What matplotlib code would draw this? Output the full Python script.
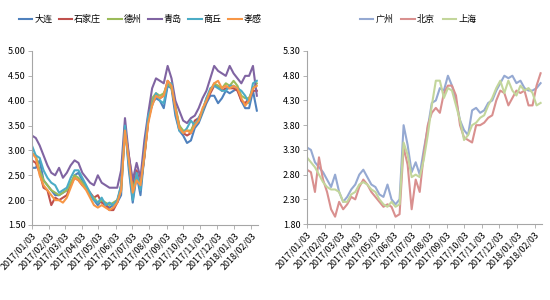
import numpy as np
import pandas as pd
import matplotlib
matplotlib.use('Agg')
import matplotlib.pyplot as plt
import matplotlib.dates as mdates

plt.rcParams['font.family'] = ['Noto Sans CJK SC', 'DejaVu Sans']

# weekly observations, 2017/01/03 .. 2018/02/13
dates = pd.date_range('2017-01-03', periods=59, freq='7D')

dalian = [2.65, 2.65, 2.8, 2.4, 2.3, 2.2, 2.1, 2.1, 2.15, 2.2, 2.3, 2.5, 2.55, 2.4, 2.25,
          2.1, 2.0, 1.9, 2.0, 1.9, 1.85, 1.9, 1.95, 2.1, 3.5, 2.6, 1.95, 2.5, 2.1, 2.9,
          3.6, 3.95, 4.05, 4.0, 3.85, 4.3, 4.25, 3.7, 3.4, 3.3, 3.15, 3.2, 3.45, 3.55, 3.75,
          3.95, 4.1, 4.1, 3.95, 4.05, 4.2, 4.15, 4.2, 4.25, 4.0, 3.85, 3.85, 4.2, 3.8]
shijiazhuang = [2.8, 2.75, 2.55, 2.25, 2.2, 1.9, 2.05, 2.0, 2.05, 2.1, 2.3, 2.45, 2.4, 2.3, 2.25,
                2.15, 2.05, 2.1, 1.95, 1.9, 1.8, 1.8, 1.95, 2.3, 3.45, 2.9, 2.3, 2.6, 2.3, 2.85,
                3.6, 3.95, 4.1, 4.05, 4.1, 4.4, 4.3, 3.85, 3.5, 3.35, 3.3, 3.35, 3.6, 3.65, 3.8,
                4.0, 4.15, 4.3, 4.3, 4.2, 4.25, 4.25, 4.25, 4.2, 4.0, 3.95, 4.05, 4.2, 4.2]
dezhou = [2.95, 2.9, 2.6, 2.4, 2.3, 2.2, 2.15, 2.1, 2.15, 2.2, 2.35, 2.5, 2.45, 2.35, 2.25,
          2.1, 2.05, 1.95, 2.0, 1.95, 1.9, 1.95, 2.0, 2.2, 3.4, 2.8, 2.2, 2.5, 2.3, 2.9,
          3.65, 4.05, 4.15, 4.1, 4.15, 4.35, 4.25, 3.9, 3.5, 3.4, 3.4, 3.4, 3.55, 3.6, 3.8,
          4.05, 4.2, 4.35, 4.3, 4.25, 4.35, 4.3, 4.4, 4.3, 4.1, 4.05, 4.05, 4.25, 4.35]
qingdao = [3.3, 3.25, 3.1, 2.9, 2.7, 2.55, 2.5, 2.65, 2.45, 2.55, 2.7, 2.8, 2.75, 2.55, 2.45,
           2.35, 2.3, 2.5, 2.35, 2.3, 2.25, 2.25, 2.25, 2.6, 3.65, 2.9, 2.4, 2.75, 2.45, 3.2,
           3.75, 4.25, 4.45, 4.4, 4.35, 4.7, 4.45, 4.0, 3.8, 3.6, 3.55, 3.65, 3.7, 3.85, 4.05,
           4.2, 4.45, 4.7, 4.6, 4.55, 4.5, 4.7, 4.55, 4.45, 4.35, 4.5, 4.5, 4.7, 4.1]
shangqiu = [3.1, 2.9, 2.85, 2.6, 2.45, 2.35, 2.3, 2.15, 2.2, 2.25, 2.45, 2.6, 2.6, 2.45, 2.3,
            2.15, 2.0, 1.95, 2.05, 1.9, 1.95, 1.9, 2.0, 2.3, 3.5, 2.7, 2.0, 2.55, 2.2, 2.95,
            3.7, 3.9, 4.15, 4.0, 3.95, 4.35, 4.35, 3.8, 3.4, 3.35, 3.45, 3.6, 3.5, 3.65, 3.8,
            4.05, 4.25, 4.3, 4.25, 4.2, 4.2, 4.3, 4.3, 4.25, 4.2, 4.1, 3.95, 4.35, 4.4]
xiaogan = [2.95, 2.85, 2.5, 2.3, 2.2, 2.1, 2.0, 2.0, 1.95, 2.05, 2.25, 2.45, 2.4, 2.3, 2.2,
           2.05, 1.9, 1.85, 1.9, 1.85, 1.8, 1.85, 1.95, 2.2, 3.4, 2.8, 2.15, 2.4, 2.3, 2.9,
           3.55, 3.9, 4.1, 4.05, 4.1, 4.4, 4.3, 3.85, 3.45, 3.35, 3.4, 3.35, 3.5, 3.6, 3.85,
           4.0, 4.2, 4.35, 4.4, 4.25, 4.3, 4.25, 4.3, 4.25, 4.05, 3.9, 4.0, 4.25, 4.3]

guangzhou = [3.35, 3.3, 3.05, 2.95, 2.85, 2.7, 2.55, 2.8, 2.45, 2.25, 2.35, 2.5, 2.6, 2.8, 2.9,
             2.75, 2.6, 2.55, 2.4, 2.35, 2.6, 2.3, 2.2, 2.3, 3.8, 3.4, 2.85, 3.05, 2.8, 3.3,
             3.75, 4.25, 4.3, 4.55, 4.5, 4.8, 4.6, 4.3, 3.9, 3.7, 3.6, 4.1, 4.15, 4.05, 4.1,
             4.25, 4.3, 4.5, 4.65, 4.8, 4.75, 4.8, 4.65, 4.7, 4.55, 4.5, 4.5, 4.55, 4.65]
beijing = [2.9, 2.85, 2.45, 3.15, 2.7, 2.45, 2.1, 1.95, 2.25, 2.1, 2.2, 2.35, 2.3, 2.55, 2.7,
           2.6, 2.45, 2.35, 2.25, 2.15, 2.2, 2.15, 1.95, 2.0, 3.35, 3.0, 2.1, 2.7, 2.45, 3.2,
           3.8, 4.05, 4.15, 4.05, 4.45, 4.6, 4.6, 4.4, 3.8, 3.55, 3.5, 3.45, 3.8, 3.8, 3.85,
           3.95, 4.0, 4.3, 4.5, 4.45, 4.2, 4.35, 4.5, 4.45, 4.5, 4.2, 4.2, 4.6, 4.85]
shanghai = [3.15, 3.05, 2.95, 2.8, 2.65, 2.55, 2.5, 2.5, 2.45, 2.25, 2.25, 2.4, 2.45, 2.6, 2.65,
            2.6, 2.5, 2.45, 2.3, 2.2, 2.15, 2.25, 2.15, 2.2, 3.45, 3.2, 2.75, 2.8, 2.75, 3.1,
            3.6, 4.2, 4.7, 4.7, 4.35, 4.55, 4.5, 4.2, 3.9, 3.5, 3.6, 3.8, 3.85, 3.95, 4.0,
            4.2, 4.35, 4.55, 4.7, 4.45, 4.7, 4.5, 4.4, 4.6, 4.5, 4.55, 4.45, 4.2, 4.25]

left_names = ['大连', '石家庄', '德州', '青岛', '商丘', '孝感']
left_series = [dalian, shijiazhuang, dezhou, qingdao, shangqiu, xiaogan]
left_colors = ['#4F81BD', '#C0504D', '#9BBB59', '#8064A2', '#4BACC6', '#F79646']

right_names = ['广州', '北京', '上海']
right_series = [guangzhou, beijing, shanghai]
right_colors = ['#95A9D2', '#D9908F', '#C3D69B']

# tick on the 3rd of each month
tick_dates = pd.date_range('2017-01-01', '2018-02-01', freq='MS') + pd.Timedelta(days=2)

fig = plt.figure(figsize=(5.5, 3.0), dpi=100)
ax1 = fig.add_axes([0.058, 0.25, 0.411, 0.58])
ax2 = fig.add_axes([0.558, 0.253, 0.427, 0.577])


def style(ax, yticks):
    for s in ['top', 'right']:
        ax.spines[s].set_visible(False)
    for s in ['left', 'bottom']:
        ax.spines[s].set_color('#A6A6A6')
        ax.spines[s].set_linewidth(0.8)
    ax.set_xlim(dates[0], pd.Timestamp('2018-02-15'))
    ax.set_ylim(yticks[0], yticks[-1])
    ax.set_yticks(yticks)
    ax.set_yticklabels([f'{v:.2f}' for v in yticks], fontsize=6.5)
    ax.set_xticks(tick_dates)
    ax.xaxis.set_major_formatter(mdates.DateFormatter('%Y/%m/%d'))
    ax.tick_params(axis='both', direction='out', length=3, width=0.6,
                   color='#A6A6A6', pad=1.5)
    plt.setp(ax.get_xticklabels(), rotation=47, ha='right',
             rotation_mode='anchor', fontsize=6.4)


for name, vals, c in zip(left_names, left_series, left_colors):
    ax1.plot(dates, vals, color=c, lw=1.5, label=name)
style(ax1, np.arange(1.5, 5.01, 0.5))

for name, vals, c in zip(right_names, right_series, right_colors):
    ax2.plot(dates, vals, color=c, lw=1.5, label=name)
style(ax2, np.arange(1.8, 5.31, 0.5))

fig.legend(*ax1.get_legend_handles_labels(), loc='center', ncol=6,
           bbox_to_anchor=(0.255, 0.935), frameon=False, fontsize=6.5,
           handlelength=1.5, handletextpad=0.2, columnspacing=0.75)
fig.legend(*ax2.get_legend_handles_labels(), loc='center', ncol=3,
           bbox_to_anchor=(0.76, 0.935), frameon=False, fontsize=6.5,
           handlelength=1.5, handletextpad=0.2, columnspacing=0.9)

fig.savefig('out.png', dpi=100)
